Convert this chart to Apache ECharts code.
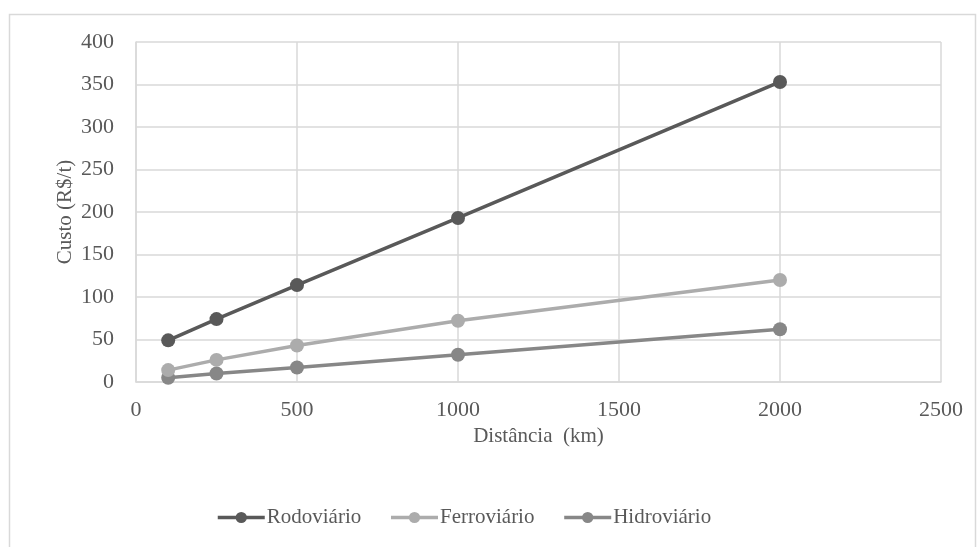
<!DOCTYPE html>
<html>
<head>
<meta charset="utf-8">
<script src="https://cdn.jsdelivr.net/npm/echarts@6/dist/echarts.min.js"></script>
<style>
  html, body { margin: 0; padding: 0; background: #ffffff; }
  #chart { width: 980px; height: 547px; }
</style>
</head>
<body>
<div id="chart"></div>
<script>
// Transport cost (R$/t) by distance (km) for each mode
const distances = [100, 250, 500, 1000, 2000];
const rodoviario = [49, 74, 114, 193, 353];
const ferroviario = [14, 26, 43, 72, 120];
const hidroviario = [5, 10, 17, 32, 62];

const seriesNames = ['Rodoviário', 'Ferroviário', 'Hidroviário'];
const seriesColors = ['#595959', '#acacac', '#878787'];
const seriesValues = [rodoviario, ferroviario, hidroviario];

const serif = '"Liberation Serif", "DejaVu Serif", serif';
const textColor = '#595959';
const gridColor = '#d9d9d9';

const chart = echarts.init(document.getElementById('chart'), null, { renderer: 'canvas' });

const series = seriesNames.map((name, i) => ({
  name: name,
  type: 'line',
  data: distances.map((d, j) => [d, seriesValues[i][j]]),
  symbol: 'circle',
  symbolSize: 14,
  lineStyle: { width: 3.5, color: seriesColors[i] },
  itemStyle: { color: seriesColors[i] },
  emphasis: { disabled: true },
  z: 3 - i
}));

chart.setOption({
  animation: false,
  backgroundColor: '#ffffff',
  graphic: [{
    type: 'rect',
    left: 7, top: 12,
    shape: { width: 966, height: 545 },
    style: { fill: 'none', stroke: gridColor, lineWidth: 1.5 },
    silent: true
  }],
  grid: { left: 136, right: 39, top: 42, bottom: 165, containLabel: false },
  legend: {
    data: seriesNames,
    bottom: 14,
    left: 211,
    itemWidth: 47,
    itemHeight: 14,
    itemGap: 28,
    itemStyle: { borderWidth: 0 },
    lineStyle: { width: 3.5 },
    textStyle: { fontFamily: serif, fontSize: 21, color: textColor, padding: [0, 0, 0, -3] }
  },
  xAxis: {
    type: 'value',
    min: 0, max: 2500, interval: 500,
    name: 'Distância  (km)',
    nameLocation: 'middle',
    nameGap: 44,
    nameMoveOverlap: false,
    nameTextStyle: { fontFamily: serif, fontSize: 21, color: textColor },
    axisLine: { show: true, lineStyle: { color: gridColor, width: 1.5 } },
    axisTick: { show: false },
    axisLabel: {
      fontFamily: serif, fontSize: 22, color: textColor, margin: 17,
      formatter: v => String(v)
    },
    splitLine: { show: true, lineStyle: { color: gridColor, width: 1.5 } }
  },
  yAxis: {
    type: 'value',
    min: 0, max: 400, interval: 50,
    name: 'Custo (R$/t)',
    nameLocation: 'middle',
    nameGap: 60,
    nameMoveOverlap: false,
    nameTextStyle: { fontFamily: serif, fontSize: 21, color: textColor },
    axisLine: { show: true, lineStyle: { color: gridColor, width: 1.5 } },
    axisTick: { show: false },
    axisLabel: { fontFamily: serif, fontSize: 22, color: textColor, margin: 22 },
    splitLine: { show: true, lineStyle: { color: gridColor, width: 1.5 } }
  },
  series: series
});
</script>
</body>
</html>
